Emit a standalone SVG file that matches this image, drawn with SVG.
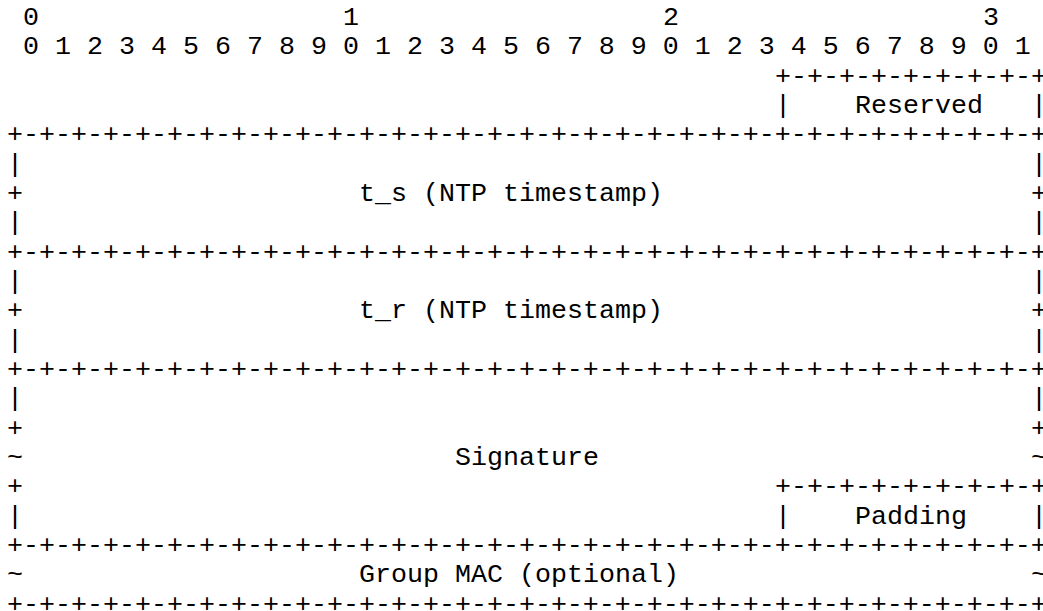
<svg xmlns="http://www.w3.org/2000/svg" width="1043" height="611" viewBox="0 0 1043 611">
  <style>
    text { font-family: "Liberation Mono", "DejaVu Sans Mono", monospace; font-size: 26.67px; fill: #000; white-space: pre; }
    /* last column sits on the right edge: tighten its advance so the box ends inside the canvas */
    .edge { letter-spacing: -5px; }
  </style>
  <defs>
    <!-- full-width 32-bit border: "+-" x32 then "+" -->
    <text id="rule">+-+-+-+-+-+-+-+-+-+-+-+-+-+-+-+-+-+-+-+-+-+-+-+-+-+-+-+-+-+-+-+-<tspan class="edge">+</tspan></text>
    <!-- 8-bit border for the last octet -->
    <text id="rule8">+-+-+-+-+-+-+-+-<tspan class="edge">+</tspan></text>
  </defs>
  <rect width="1043" height="611" fill="#fff"/>

  <!-- bit ruler: one column = 16px, column 0 starts at x=7 -->
  <g id="bit-ruler">
    <text x="23" y="25">0</text>
    <text x="343" y="25">1</text>
    <text x="663" y="25">2</text>
    <text x="983" y="25">3</text>
    <text x="23" y="54.33">0 1 2 3 4 5 6 7 8 9 0 1 2 3 4 5 6 7 8 9 0 1 2 3 4 5 6 7 8 9 0 1</text>
  </g>

  <!-- borders between fields -->
  <g id="borders">
    <use href="#rule8" x="775" y="83.67"/>
    <use href="#rule" x="7" y="142.33"/>
    <use href="#rule" x="7" y="259.67"/>
    <use href="#rule" x="7" y="377"/>
    <use href="#rule8" x="775" y="494.33"/>
    <use href="#rule" x="7" y="553"/>
    <use href="#rule" x="7" y="611.67"/>
  </g>

  <g id="reserved">
    <text x="775" y="113">|</text>
    <text x="855" y="113">Reserved</text>
    <text class="edge" x="1031" y="113">|</text>
  </g>

  <g id="t_s">
    <text x="7" y="171.67">|</text>
    <text class="edge" x="1031" y="171.67">|</text>
    <text x="7" y="201">+</text>
    <text x="359" y="201">t_s (NTP timestamp)</text>
    <text class="edge" x="1031" y="201">+</text>
    <text x="7" y="230.33">|</text>
    <text class="edge" x="1031" y="230.33">|</text>
  </g>

  <g id="t_r">
    <text x="7" y="289">|</text>
    <text class="edge" x="1031" y="289">|</text>
    <text x="7" y="318.33">+</text>
    <text x="359" y="318.33">t_r (NTP timestamp)</text>
    <text class="edge" x="1031" y="318.33">+</text>
    <text x="7" y="347.67">|</text>
    <text class="edge" x="1031" y="347.67">|</text>
  </g>

  <g id="signature">
    <text x="7" y="406.33">|</text>
    <text class="edge" x="1031" y="406.33">|</text>
    <text x="7" y="435.67">+</text>
    <text class="edge" x="1031" y="435.67">+</text>
    <text x="7" y="465">~</text>
    <text x="455" y="465">Signature</text>
    <text class="edge" x="1031" y="465">~</text>
    <text x="7" y="494.33">+</text>
    <text x="7" y="523.67">|</text>
  </g>

  <g id="padding">
    <text x="775" y="523.67">|</text>
    <text x="855" y="523.67">Padding</text>
    <text class="edge" x="1031" y="523.67">|</text>
  </g>

  <g id="group-mac">
    <text x="7" y="582.33">~</text>
    <text x="359" y="582.33">Group MAC (optional)</text>
    <text class="edge" x="1031" y="582.33">~</text>
  </g>
</svg>
